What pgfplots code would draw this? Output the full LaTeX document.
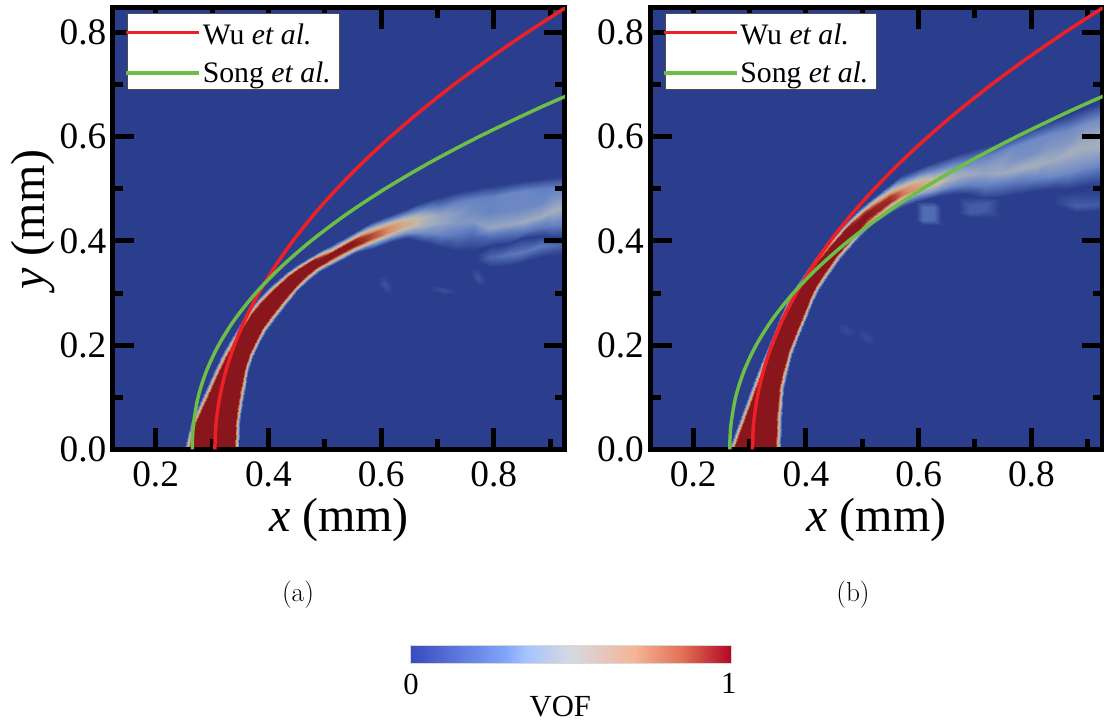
\documentclass[border=0pt]{standalone}
\usepackage{fontspec}
\usepackage{pgfplots}
\usepackage{pgfplotstable}
\pgfplotsset{compat=1.18}
\newfontfamily\tnr{Liberation Serif}
\definecolor{bgblue}{RGB}{42,62,141}
\definecolor{wured}{RGB}{238,32,38}
\definecolor{songgreen}{RGB}{108,190,70}

\pgfplotstableread{
x y v
.2475 -.01 0
.2575 -.01 1
.283 -.01 1
.313 -.01 1
.3385 -.01 1
.3485 -.01 0
.2617 .05 0
.2717 .05 1
.293 .05 1
.32 .05 1
.3405 .05 1
.3505 .05 0
.286 .1091 0
.295 .1049 1
.31 .098 1
.3294 .089 1
.3443 .0821 1
.3533 .0779 0
.3004 .1449 0
.309 .1397 1
.3208 .1327 1
.3375 .1228 1
.3493 .1158 1
.3579 .1106 0
.3159 .1808 0
.3241 .1752 1
.3335 .1687 1
.347 .1593 1
.3564 .1528 1
.3646 .1472 0
.3323 .2126 0
.3399 .2062 1
.3472 .2 1
.3586 .1903 1
.3659 .1841 1
.3735 .1777 0
.3491 .2416 0
.3561 .2344 1
.362 .2284 1
.3716 .2186 1
.3775 .2126 1
.3845 .2054 0
.3646 .2669 0
.3712 .2593 1
.3766 .2531 1
.3856 .2429 1
.391 .2367 1
.3976 .2291 0
.3818 .2905 0
.3882 .2827 1
.3933 .2765 1
.4018 .2661 1
.4068 .2599 1
.4132 .2521 0
.4051 .3154 0
.4111 .3074 1
.4152 .3021 1
.4224 .2925 1
.4265 .2872 1
.4325 .2792 0
.4295 .3381 0
.4353 .3299 1
.4382 .3258 1
.4442 .3172 1
.4471 .3131 1
.4529 .3049 0
.4488 .3541 0
.4546 .3459 1
.4568 .3428 1
.4621 .3353 1
.4643 .3322 1
.4701 .324 0
.4712 .3692 0
.4768 .3608 1
.4785 .3584 1
.483 .3516 1
.4847 .3492 1
.4903 .3408 0
.5067 .39 0
.5123 .3796 .85
.513 .3781 1
.5167 .3713 1
.5174 .3698 .85
.523 .3594 0
.5434 .4118 0
.546 .4022 .7
.5473 .3983 1
.55 .3907 1
.5512 .3858 .7
.5538 .3762 0
.584 .436 0
.585 .426 .42
.586 .416 .82
.586 .406 .82
.587 .397 .42
.588 .386 0
.6157 .45 0
.6157 .438 .38
.6157 .428 .68
.6157 .418 .68
.6157 .408 .34
.6157 .398 0
.645 .462 0
.645 .45 .33
.645 .438 .58
.645 .428 .58
.645 .416 .3
.645 .405 0
.675 .475 0
.675 .46 .3
.675 .445 .46
.675 .43 .44
.675 .415 .28
.675 .398 0
.705 .484 0
.705 .466 .25
.705 .45 .38
.705 .435 .38
.705 .413 .26
.705 .388 0
.7345 .494 0
.7345 .474 .25
.7345 .453 .34
.7345 .435 .33
.7345 .41 .2
.7345 .38 0
.763 .5 0
.763 .48 .25
.763 .46 .28
.763 .438 .33
.763 .41 .15
.763 .382 0
.793 .506 0
.793 .485 .25
.793 .455 .26
.793 .425 .38
.793 .405 .15
.793 .39 0
.822 .51 0
.822 .49 .27
.822 .46 .27
.822 .43 .38
.822 .41 .15
.822 .395 0
.852 .515 0
.852 .495 .27
.852 .462 .28
.852 .436 .4
.852 .417 .2
.852 .405 0
.882 .518 0
.882 .5 .25
.882 .47 .28
.882 .445 .4
.882 .425 .2
.882 .41 0
.905 .522 0
.905 .502 .25
.905 .478 .32
.905 .458 .42
.905 .43 .25
.905 .405 0
.935 .525 0
.935 .505 .25
.935 .485 .35
.935 .47 .44
.935 .435 .25
.935 .405 0
}\plumeA

\pgfplotstableread{
x y v
.77 .384 0
.77 .375 0
.77 .36 0
.793 .39 0
.793 .37 .15
.793 .35 0
.822 .395 0
.822 .373 .2
.822 .352 0
.852 .405 0
.852 .379 .22
.852 .36 0
.882 .41 0
.882 .39 .22
.882 .37 0
.935 .405 0
.935 .392 .12
.935 .375 0
}\wispA

\pgfplotstableread{
x y v
.595 .30 0
.607 .30 0
.62 .30 0
.595 .315 0
.607 .315 .08
.62 .315 0
.595 .333 0
.607 .333 0
.62 .333 0
}\faintAa

\pgfplotstableread{
x y v
.76 .315 0
.772 .315 0
.785 .315 0
.76 .329 0
.772 .329 .09
.785 .329 0
.76 .348 0
.772 .348 0
.785 .348 0
}\faintAb

\pgfplotstableread{
x y v
.685 .298 0
.71 .298 0
.735 .298 0
.685 .306 0
.71 .306 .07
.735 .306 0
.685 .314 0
.71 .314 0
.735 .314 0
}\faintAc

\pgfplotstableread{
x y v
.258 -.01 0
.268 -.01 1
.295 -.01 1
.322 -.01 1
.345 -.01 1
.355 -.01 0
.283 .0626 0
.293 .0626 1
.31 .0626 1
.33 .0626 1
.3468 .0626 1
.3568 .0626 0
.307 .1344 0
.3166 .1316 1
.3269 .1287 1
.3419 .1243 1
.3522 .1214 1
.3618 .1186 0
.3218 .1737 0
.3306 .1689 1
.3384 .1647 1
.3509 .158 1
.3587 .1537 1
.3675 .1489 0
.3373 .2132 0
.3451 .2068 1
.3515 .2017 1
.3617 .1933 1
.3681 .1882 1
.3759 .1818 0
.352 .2512 0
.3598 .245 1
.3657 .2402 1
.3759 .232 1
.3818 .2272 1
.3896 .221 0
.3666 .286 0
.3746 .28 1
.3803 .2757 1
.3903 .2683 1
.396 .264 1
.404 .258 0
.381 .3133 0
.3882 .3063 1
.3928 .3019 1
.4011 .2938 1
.4057 .2894 1
.4129 .2824 0
.3969 .339 0
.4031 .331 1
.4066 .3264 1
.4134 .3176 1
.4169 .313 1
.4231 .305 0
.4158 .3682 0
.4218 .3602 1
.4249 .356 1
.4311 .3473 1
.4342 .343 1
.4402 .335 0
.4383 .3991 0
.4441 .3909 1
.447 .387 1
.4527 .379 1
.4556 .3751 1
.4614 .3669 0
.4675 .4333 0
.4729 .4249 1
.4752 .4211 1
.4804 .413 1
.4828 .4092 1
.4882 .4008 0
.4974 .4654 0
.5026 .4546 .85
.504 .4517 1
.508 .4433 1
.5094 .4404 .85
.5146 .4296 0
.547 .508 0
.547 .495 .5
.547 .485 .9
.547 .475 .95
.547 .465 .5
.547 .452 0
.5706 .526 0
.5706 .51 .4
.5706 .498 .72
.5706 .488 .75
.5706 .478 .4
.5706 .466 0
.6 .54 0
.6 .525 .35
.6 .512 .6
.6 .502 .65
.6 .49 .35
.6 .476 0
.6295 .552 0
.6295 .535 .3
.6295 .52 .5
.6295 .51 .52
.6295 .496 .3
.6295 .484 0
.66 .563 0
.66 .545 .28
.66 .53 .4
.66 .52 .43
.66 .505 .28
.66 .49 0
.688 .573 0
.688 .553 .25
.688 .538 .36
.688 .528 .4
.688 .51 .26
.688 .49 0
.7175 .583 0
.7175 .562 .25
.7175 .546 .33
.7175 .53 .38
.7175 .505 .23
.7175 .48 0
.7465 .592 0
.7465 .572 .26
.7465 .555 .34
.7465 .53 .4
.7465 .51 .23
.7465 .485 0
.776 .605 0
.776 .585 .28
.776 .56 .3
.776 .538 .42
.776 .515 .23
.776 .49 0
.806 .618 0
.806 .595 .28
.806 .57 .3
.806 .545 .42
.806 .52 .26
.806 .495 0
.835 .63 0
.835 .605 .28
.835 .58 .33
.835 .553 .4
.835 .525 .28
.835 .5 0
.865 .642 0
.865 .612 .28
.865 .59 .33
.865 .568 .42
.865 .53 .28
.865 .5 0
.895 .655 0
.895 .625 .3
.895 .6 .38
.895 .578 .42
.895 .54 .28
.895 .505 0
.935 .67 0
.935 .64 .28
.935 .615 .36
.935 .59 .44
.935 .55 .28
.935 .51 0
}\plumeB

\pgfplotstableread{
x y v
.595 .43 0
.607 .43 0
.628 .43 0
.64 .43 0
.595 .44 0
.607 .44 .17
.628 .44 .17
.64 .44 0
.595 .465 0
.607 .465 .17
.628 .465 .17
.64 .465 0
.595 .476 0
.607 .476 0
.628 .476 0
.64 .476 0
}\blobB

\pgfplotstableread{
x y v
.67 .445 0
.69 .445 0
.72 .445 0
.745 .445 0
.67 .453 0
.69 .453 .11
.72 .46 .11
.745 .465 0
.67 .465 0
.69 .467 .11
.72 .472 .11
.745 .48 0
.67 .485 0
.69 .485 0
.72 .485 0
.745 .485 0
}\blobBb

\pgfplotstableread{
x y v
.84 .455 0
.88 .455 0
.935 .46 0
.84 .47 0
.88 .468 .12
.935 .47 .1
.84 .49 0
.88 .495 0
.935 .5 0
}\blobBc

\pgfplotstableread{
x y v
.455 .215 0
.471 .215 0
.487 .215 0
.455 .229 0
.471 .229 .05
.487 .229 0
.455 .243 0
.471 .243 0
.487 .243 0
}\blobBd

\pgfplotstableread{
x y v
.49 .203 0
.506 .203 0
.522 .203 0
.49 .216 0
.506 .216 .06
.522 .216 0
.49 .23 0
.506 .23 0
.522 .23 0
}\blobBe

\pgfplotstableread{
x y
.305 0
.3072 .05
.3137 .1
.3245 .15
.3396 .2
.3591 .25
.3829 .3
.4111 .35
.4435 .4
.4803 .45
.5215 .5
.5669 .55
.6167 .6
.6708 .65
.7292 .7
.792 .75
.8591 .8
.9305 .85
}\wu

\pgfplotstableread{
x y
.265 0
.2653 .02
.2673 .05
.2753 .1
.29 .15
.3117 .2
.3408 .25
.3777 .3
.4226 .35
.4756 .4
.537 .45
.607 .5
.6858 .55
.7735 .6
.87 .65
.928 .678
}\song

\pgfplotsset{
  colormap={plume}{
    rgb255(0pt)=(42,62,141)
    rgb255(25pt)=(100,130,195)
    rgb255(40pt)=(158,170,192)
    rgb255(50pt)=(195,186,168)
    rgb255(60pt)=(210,170,135)
    rgb255(70pt)=(215,140,105)
    rgb255(85pt)=(175,65,50)
    rgb255(100pt)=(136,22,28)
  },
  colormap={cbar}{
    rgb255(0pt)=(55,75,190)
    rgb255(30pt)=(130,165,250)
    rgb255(36pt)=(165,195,255)
    rgb255(50pt)=(215,217,225)
    rgb255(70pt)=(245,180,150)
    rgb255(85pt)=(225,110,85)
    rgb255(100pt)=(178,8,38)
  },
  geom/.style={
    anchor=south west,
    scale only axis,
    width=339pt, height=331.35pt,
    xmin=.1243, xmax=.9263, ymin=0, ymax=.848,
  },
  panel/.style={
    geom,
    axis on top,
    axis background/.style={fill=bgblue},
    axis line style={line width=3.75pt, black},
    every tick/.style={black, line width=3.75pt},
    major tick length=15.75pt,
    minor tick length=7.5pt,
    xtick={.2,.4,.6,.8}, minor xtick={.3,.5,.7,.9},
    ytick={0,.2,.4,.6,.8}, minor ytick={.1,.3,.5,.7},
    tick align=inside,
    xtick pos=both, ytick pos=both,
    xticklabel pos=bottom, yticklabel pos=left,
    tick label style={font=\tnr\fontsize{28}{28}\selectfont},
    xticklabel style={yshift=-6pt},
    yticklabel style={xshift=-1.5pt},
    /pgf/number format/.cd, fixed, fixed zerofill, precision=1, assume math mode=true,
    /pgfplots/.cd,
    xlabel={\textit{x} (mm)},
    xlabel style={font=\tnr\fontsize{36}{36}\selectfont, at={(axis description cs:.5,-.1)}, anchor=north},
    point meta min=0, point meta max=1,
  },
  overlay/.style={
    geom,
    hide axis,
    legend cell align=left,
    legend image code/.code={\path (0pt,0pt) -- (52.5pt,0pt); \draw[##1,overlay] (-2.25pt,0pt) -- (50.25pt,0pt);},
    legend style={
      at={(axis description cs:.0310,.9875)}, anchor=north west,
      draw=black!70, line width=.5pt,
      inner xsep=0pt, inner ysep=3.1pt,
      font=\tnr\fontsize{22.3}{24}\selectfont,
      row sep=9.25pt,
      nodes={inner xsep=0pt, inner ysep=1pt},
      /tikz/column 1/.style={column sep=1.5pt},
    },
  },
  curve/.style={line width=2.6pt, smooth},
  blob/.style={surf, shader=interp, colormap name=plume, point meta=\thisrow{v}, forget plot},
}

\begin{document}
\begin{tikzpicture}[x=1pt,y=1pt]
\useasboundingbox (0pt,0pt) rectangle (828pt,543pt);

\begin{axis}[panel, at={(84.75pt,206pt)},
  ylabel={\textit{y} (mm)},
  ylabel style={font=\tnr\fontsize{36}{36}\selectfont, at={(axis description cs:-.176,.52)}, anchor=center, rotate=0},
]
\addplot[blob, mesh/cols=6] table[x=x,y=y] {\plumeA};
\addplot[blob, mesh/cols=3] table[x=x,y=y] {\wispA};
\addplot[blob, mesh/cols=3] table[x=x,y=y] {\faintAa};
\addplot[blob, mesh/cols=3] table[x=x,y=y] {\faintAb};
\addplot[blob, mesh/cols=3] table[x=x,y=y] {\faintAc};
\end{axis}
\begin{axis}[overlay, at={(84.75pt,206pt)}]
\addplot[curve, wured] table[x=x,y=y] {\wu};
\addplot[curve, songgreen] table[x=x,y=y] {\song};
\legend{\rule{0pt}{19.3pt}Wu \textit{et al.}, Song \textit{et al.}\rule{6pt}{0pt}}
\end{axis}

\begin{axis}[panel, at={(487.9pt,206pt)}]
\addplot[blob, mesh/cols=6] table[x=x,y=y] {\plumeB};
\addplot[blob, mesh/cols=4] table[x=x,y=y] {\blobB};
\addplot[blob, mesh/cols=4] table[x=x,y=y] {\blobBb};
\addplot[blob, mesh/cols=3] table[x=x,y=y] {\blobBc};
\addplot[blob, mesh/cols=3] table[x=x,y=y] {\blobBd};
\addplot[blob, mesh/cols=3] table[x=x,y=y] {\blobBe};
\end{axis}
\begin{axis}[overlay, at={(487.9pt,206pt)}]
\addplot[curve, wured] table[x=x,y=y] {\wu};
\addplot[curve, songgreen] table[x=x,y=y] {\song};
\legend{\rule{0pt}{19.3pt}Wu \textit{et al.}, Song \textit{et al.}\rule{6pt}{0pt}}
\end{axis}

\begin{axis}[anchor=south west, at={(307.5pt,45.75pt)}, scale only axis, width=241pt, height=13.5pt,
  xmin=0, xmax=1, ymin=0, ymax=1, point meta min=0, point meta max=1,
  axis line style={line width=.4pt, black!15},
  ytick=\empty, xtick={.003,.992}, xticklabels={0,1},
  major tick length=0pt,
  tick label style={font=\tnr\fontsize{23}{23}\selectfont},
  xticklabel style={yshift=-4.5pt},
  xlabel={VOF},
  xlabel style={font=\tnr\fontsize{23}{23}\selectfont, at={(axis description cs:.468,-2.42)}, anchor=center},
  axis on top,
]
\addplot[surf, shader=interp, colormap name=cbar, mesh/cols=2, point meta=\thisrow{v}] table[x=x,y=y] {
x y v
0 0 0
0 1 0
.3 0 .3
.3 1 .3
.36 0 .36
.36 1 .36
.5 0 .5
.5 1 .5
.7 0 .7
.7 1 .7
.85 0 .85
.85 1 .85
1 0 1
1 1 1
};
\end{axis}

\node at (223.5pt,96.75pt) {\fontsize{20.5}{20.5}\selectfont (a)};
\node at (639.75pt,96.75pt) {\fontsize{20.5}{20.5}\selectfont (b)};
\end{tikzpicture}
\end{document}
